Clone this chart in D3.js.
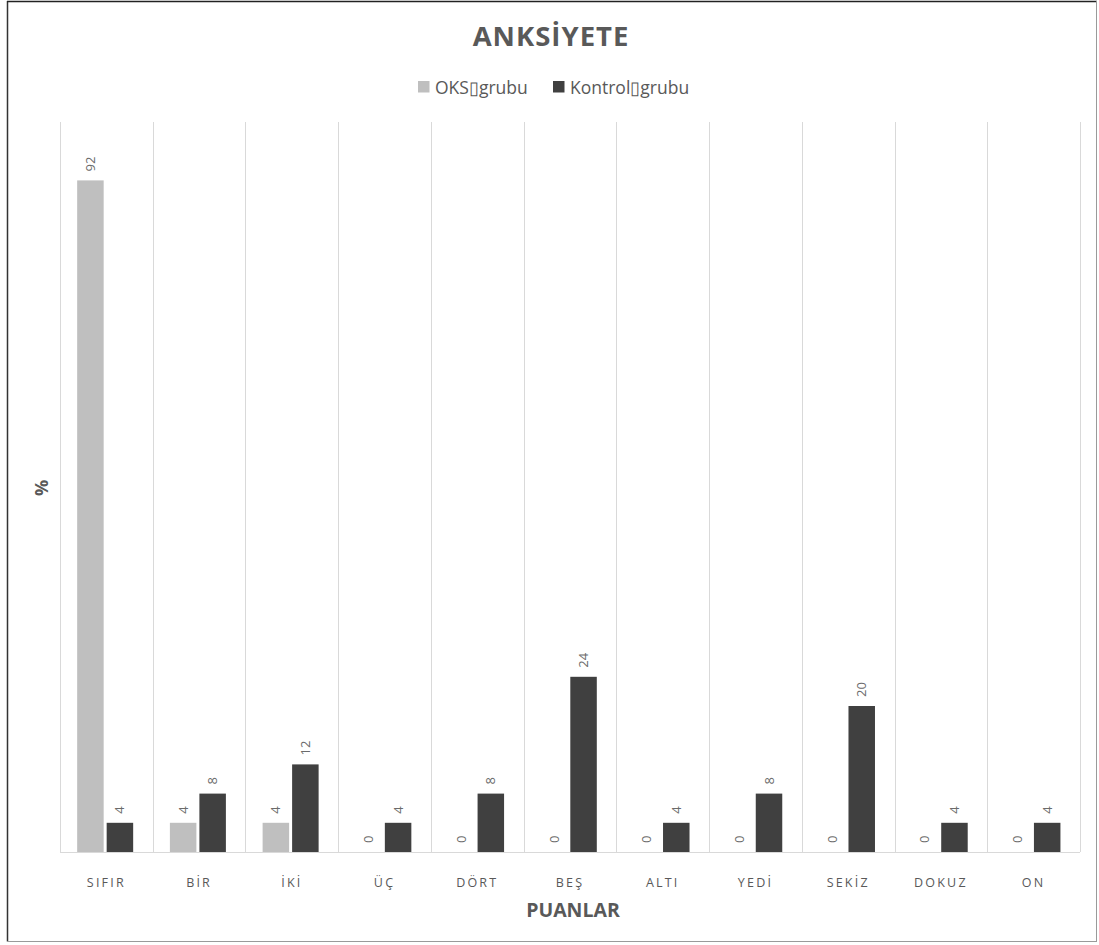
<!DOCTYPE html>
<html>
<head>
<meta charset="utf-8">
<script src="https://cdn.jsdelivr.net/npm/d3@7"></script>
<style>
  html, body { margin: 0; padding: 0; background: #fff; }
  svg { display: block; font-family: "Open Sans", "Noto Sans", sans-serif; }
</style>
</head>
<body>
<svg id="chart" width="1099" height="945"></svg>
<script>
// Score categories on the x axis
const categories = ["SIFIR", "BİR", "İKİ", "ÜÇ", "DÖRT", "BEŞ", "ALTI", "YEDİ", "SEKİZ", "DOKUZ", "ON"];
// Percentage of each group per score
const oksValues = [92, 4, 4, 0, 0, 0, 0, 0, 0, 0, 0];
const kontrolValues = [4, 8, 12, 4, 8, 24, 4, 8, 20, 4, 4];
const seriesNames = ["OKS\u25AFgrubu", "Kontrol\u25AFgrubu"];
const seriesColors = ["#BFBFBF", "#404040"];

const svg = d3.select("#chart");
const plot = { left: 60, right: 1080, top: 122, bottom: 852 };

// Frame around the chart
svg.append("line").attr("x1", 7.5).attr("x2", 7.5).attr("y1", 1).attr("y2", 941.5)
  .attr("stroke", "#333").attr("stroke-width", 1.5);
svg.append("line").attr("x1", 7).attr("x2", 1097).attr("y1", 1.5).attr("y2", 1.5)
  .attr("stroke", "#222").attr("stroke-width", 1.5);
svg.append("line").attr("x1", 1096.5).attr("x2", 1096.5).attr("y1", 1).attr("y2", 941.5)
  .attr("stroke", "#9a9a9a").attr("stroke-width", 1);
svg.append("line").attr("x1", 7).attr("x2", 1097).attr("y1", 941.5).attr("y2", 941.5)
  .attr("stroke", "#9a9a9a").attr("stroke-width", 1);

const x = d3.scaleBand().domain(categories).range([plot.left, plot.right]).padding(0);
const y = d3.scaleLinear().domain([0, 100]).range([plot.bottom, plot.top]);

// Vertical gridlines at category boundaries
const bounds = categories.map(c => x(c)).concat([plot.right]);
svg.append("g").selectAll("line").data(bounds).join("line")
  .attr("x1", d => Math.round(d) + 0.5).attr("x2", d => Math.round(d) + 0.5)
  .attr("y1", plot.top).attr("y2", plot.bottom)
  .attr("stroke", "#D9D9D9").attr("stroke-width", 1);

// Bars inside each category
const barW = 26.5, barGap = 3;
const inner = d3.scaleOrdinal().domain([0, 1]).range([
  x.bandwidth() / 2 - barGap / 2 - barW - 1.2,
  x.bandwidth() / 2 + barGap / 2 - 1.2
]);

const data = [];
categories.forEach((c, i) => {
  data.push({ cat: c, s: 0, v: oksValues[i] });
  data.push({ cat: c, s: 1, v: kontrolValues[i] });
});

svg.append("g").selectAll("rect").data(data).join("rect")
  .attr("x", d => x(d.cat) + inner(d.s))
  .attr("width", barW)
  .attr("y", d => y(d.v))
  .attr("height", d => y(0) - y(d.v))
  .attr("fill", d => seriesColors[d.s]);

// Value labels, rotated above each bar
svg.append("g").selectAll("text").data(data).join("text")
  .attr("transform", d => {
    const cx = x(d.cat) + inner(d.s) + barW / 2 + 4.5;
    const cy = y(d.v) - 9;
    return `translate(${cx},${cy}) rotate(-90)`;
  })
  .attr("text-anchor", "start")
  .attr("font-size", 13)
  .attr("fill", "#6b6b6b")
  .text(d => d.v);

// Baseline
svg.append("line").attr("x1", plot.left).attr("x2", plot.right)
  .attr("y1", plot.bottom + 0.5).attr("y2", plot.bottom + 0.5)
  .attr("stroke", "#D9D9D9").attr("stroke-width", 1);

// Category axis labels
const xAxis = svg.append("g").attr("transform", `translate(0,${plot.bottom})`)
  .call(d3.axisBottom(x).tickSize(0).tickPadding(0));
xAxis.select(".domain").remove();
xAxis.selectAll("text")
  .attr("y", 35)
  .attr("dy", 0)
  .attr("font-size", 12.5)
  .attr("letter-spacing", "2.2px")
  .attr("fill", "#595959")
  .attr("font-family", "'Open Sans', sans-serif");

// Axis titles
svg.append("text").attr("x", 573).attr("y", 917)
  .attr("text-anchor", "middle").attr("font-size", 19.5).attr("font-weight", "bold")
  .attr("fill", "#595959").text("PUANLAR");
svg.append("text").attr("transform", "translate(48,488) rotate(-90)")
  .attr("text-anchor", "middle").attr("font-size", 18).attr("font-weight", "bold")
  .attr("fill", "#595959").text("%");

// Title
svg.append("text").attr("x", 551).attr("y", 46)
  .attr("text-anchor", "middle").attr("font-size", 27.5).attr("font-weight", "bold")
  .attr("letter-spacing", "1px")
  .attr("fill", "#595959").text("ANKSİYETE");

// Legend
const legend = svg.append("g");
const legendItems = [{ x: 418 }, { x: 553 }];
legendItems.forEach((it, i) => {
  legend.append("rect").attr("x", it.x).attr("y", 81).attr("width", 11.5).attr("height", 11.5)
    .attr("fill", seriesColors[i]);
  legend.append("text").attr("x", it.x + 17).attr("y", 93.5)
    .attr("font-size", 17.5).attr("fill", "#595959").text(seriesNames[i]);
});
</script>
</body>
</html>
